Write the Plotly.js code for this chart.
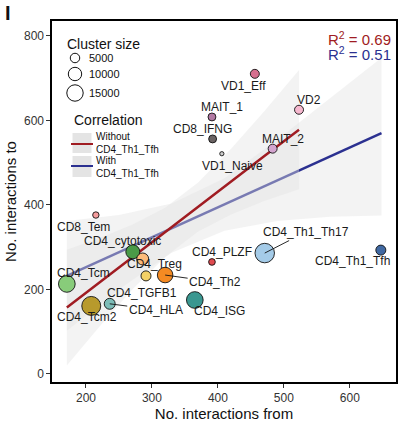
<!DOCTYPE html>
<html>
<head>
<meta charset="utf-8">
<script src="https://cdn.plot.ly/plotly-3.0.1.min.js"></script>
<style>html,body{margin:0;padding:0;background:#fff;}#chart{width:398px;height:427px;}</style>
</head>
<body>
<div id="chart"></div>
<script>
// ---- data ----
const clusters = ["VD1_Eff","VD2","MAIT_1","CD8_IFNG","VD1_Naive","MAIT_2","CD8_Tem","CD4_cytotoxic","CD4_Treg","CD4_TGFB1","CD4_Th2","CD4_Tcm","CD4_Tcm2","CD4_HLA","CD4_ISG","CD4_PLZF","CD4_Th1_Th17","CD4_Th1_Tfh"];
const interactionsFrom = [456,523,391,392,406,483,215,271,286,291,320,171,208,236,365,391,471,647];
const interactionsTo   = [710,625,608,556,521,533,376,289,272,232,234,213,161,166,175,265,286,293];
const clusterSize      = [4500,4500,3500,3500,1000,4500,2300,10900,8000,5600,13400,15500,20000,6700,15500,2500,21200,5600];
const clusterColors    = ["#d66f8e","#f6b8cf","#b27aa4","#6b6363","#cccccc","#d3a4cf","#f59c9c","#4a9a47","#fdbb7a","#f4d166","#f58a22","#88cc7a","#b89a2c","#7dbdb8","#3a9790","#e04a4f","#a4cbe8","#4169a2"];

// regression without CD4_Th1_Tfh (line + confidence band)
const fitNoTfhX     = [171,220,270,320,370,420,470,523];
const fitNoTfhY     = [157,216,276,335,395,455,515,578];
const fitNoTfhLower = [20,111,199,277,337,377,409,437];
const fitNoTfhUpper = [294,321,353,393,453,533,621,719];
// regression with CD4_Th1_Tfh
const fitTfhX     = [171,250,330,410,490,570,648];
const fitTfhY     = [232,288,345,401,458,515,570];
const fitTfhLower = [102,200,287,339,362,372,375];
const fitTfhUpper = [362,376,403,463,554,652,748];

const r2NoTfh = "0.69", r2Tfh = "0.51";
const sizeLegendValues = [5000,10000,15000];

// label offsets (screen px, from point centre to label centre), leader flag
const labelDx = [-11,10,10,-10,11,10,-12,-10,12,-4,50,17,-4,46,25,10,41,-28];
const labelDy = [12,-10,-10,-10,12,-10,12,-11,5,17,7,-11,11,6,11,-10,-21,11];
const labelLeader = [0,0,0,0,0,0,0,0,0,0,1,0,0,1,0,0,1,0];

// ---- layout helpers ----
const W = 398, H = 427, mL = 52, mR = 2, mT = 21, mB = 45;
const pw = W - mL - mR, ph = H - mT - mB;
const px = x => (x - mL) / pw;
const py = y => (H - mB - y) / ph;
const SIZEREF = 111.4;
const diam = v => Math.sqrt(2 * v / SIZEREF);

const RED = "#a01c22", BLUE = "#2b3090", FONT = "Liberation Sans, Arial, sans-serif";
const BAND = "rgba(226,226,226,0.42)";
const band = (xs, lo, up) => ({x: xs.concat(xs.slice().reverse()), y: lo.concat(up.slice().reverse())});

const bTfh = band(fitTfhX, fitTfhLower, fitTfhUpper);
const bNo = band(fitNoTfhX, fitNoTfhLower, fitNoTfhUpper);

const traces = [
  {x: bTfh.x, y: bTfh.y, type: "scatter", mode: "lines", fill: "toself", fillcolor: BAND, line: {width: 0}, hoverinfo: "skip", showlegend: false},
  {x: fitTfhX, y: fitTfhY, type: "scatter", mode: "lines", line: {color: BLUE, width: 2.5}, showlegend: false},
  {x: bNo.x, y: bNo.y, type: "scatter", mode: "lines", fill: "toself", fillcolor: BAND, line: {width: 0}, hoverinfo: "skip", showlegend: false},
  {x: fitNoTfhX, y: fitNoTfhY, type: "scatter", mode: "lines", line: {color: RED, width: 2.5}, showlegend: false},
  {x: interactionsFrom, y: interactionsTo, text: clusters, type: "scatter", mode: "markers", showlegend: false,
   marker: {size: clusterSize, sizemode: "area", sizeref: SIZEREF, color: clusterColors, opacity: 1, line: {color: "#111", width: 0.9}}}
];

const annotations = [];
clusters.forEach((c, i) => {
  if (labelLeader[i]) {
    annotations.push({x: interactionsFrom[i], y: interactionsTo[i], text: c, showarrow: true, arrowhead: 0, arrowwidth: 0.9, arrowcolor: "#111",
      ax: labelDx[i], ay: labelDy[i], standoff: 0, font: {family: FONT, size: 12, color: "#1a1a1a"}});
  } else {
    annotations.push({x: interactionsFrom[i], y: interactionsTo[i], text: c, showarrow: false, xshift: labelDx[i], yshift: -labelDy[i],
      font: {family: FONT, size: 12, color: "#1a1a1a"}});
  }
});
annotations.push(
  {xref: "paper", yref: "paper", x: px(393), y: py(38), xanchor: "right", yanchor: "middle", showarrow: false, text: "R<sup>2</sup> = " + r2NoTfh, font: {family: FONT, size: 15, color: RED}},
  {xref: "paper", yref: "paper", x: px(393), y: py(53), xanchor: "right", yanchor: "middle", showarrow: false, text: "R<sup>2</sup> = " + r2Tfh, font: {family: FONT, size: 15, color: BLUE}},
  {xref: "paper", yref: "paper", x: px(3), y: py(13), xanchor: "left", yanchor: "middle", showarrow: false, text: "<b>I</b>", font: {family: FONT, size: 20, color: "#111"}},
  {xref: "paper", yref: "paper", x: px(65), y: py(44), xanchor: "left", yanchor: "middle", showarrow: false, text: "Cluster size", font: {family: FONT, size: 14, color: "#111"}},
  {xref: "paper", yref: "paper", x: px(72), y: py(120), xanchor: "left", yanchor: "middle", showarrow: false, text: "Correlation", font: {family: FONT, size: 14, color: "#111"}},
  {xref: "paper", yref: "paper", x: px(94), y: py(143), xanchor: "left", yanchor: "middle", showarrow: false, align: "left", text: "Without<br>CD4_Th1_Tfh", font: {family: FONT, size: 10, color: "#111"}},
  {xref: "paper", yref: "paper", x: px(94), y: py(167), xanchor: "left", yanchor: "middle", showarrow: false, align: "left", text: "With<br>CD4_Th1_Tfh", font: {family: FONT, size: 10, color: "#111"}}
);

const shapes = [];
const legendCy = [58, 74, 93];
sizeLegendValues.forEach((v, i) => {
  const r = diam(v) / 2, cx = 75, cy = legendCy[i];
  shapes.push({type: "circle", xref: "paper", yref: "paper", x0: px(cx - r), x1: px(cx + r), y0: py(cy + r), y1: py(cy - r), line: {color: "#111", width: 1}, fillcolor: "rgba(0,0,0,0)"});
  annotations.push({xref: "paper", yref: "paper", x: px(87), y: py(cy), xanchor: "left", yanchor: "middle", showarrow: false, text: String(v), font: {family: FONT, size: 11, color: "#111"}});
});
[[133, 153, 144, RED], [156, 177, 166, BLUE]].forEach(k => {
  shapes.push({type: "rect", xref: "paper", yref: "paper", x0: px(72.5), x1: px(91.5), y0: py(k[1]), y1: py(k[0]), line: {width: 0}, fillcolor: "#e4e4e4"});
  shapes.push({type: "line", xref: "paper", yref: "paper", x0: px(71), x1: px(93), y0: py(k[2]), y1: py(k[2]), line: {color: k[3], width: 2}});
});

const axisCommon = {showgrid: false, zeroline: false, showline: true, mirror: true, linecolor: "#000", linewidth: 1.6,
  ticks: "outside", ticklen: 4, tickwidth: 1, tickcolor: "#333", tickfont: {family: FONT, size: 12, color: "#333"}};

const layout = {
  width: W, height: H, margin: {l: mL, r: mR, t: mT, b: mB},
  paper_bgcolor: "#fff", plot_bgcolor: "#fff", showlegend: false,
  xaxis: Object.assign({}, axisCommon, {range: [148.5, 670], tickvals: [200,300,400,500,600],
    title: {text: "No. interactions from", font: {family: FONT, size: 15, color: "#111"}, standoff: 3}}),
  yaxis: Object.assign({}, axisCommon, {range: [-19, 835], tickvals: [0,200,400,600,800],
    title: {text: "No. interactions to", font: {family: FONT, size: 15, color: "#111"}, standoff: 4}}),
  annotations: annotations, shapes: shapes
};

Plotly.newPlot("chart", traces, layout, {displayModeBar: false, staticPlot: true});
</script>
</body>
</html>
